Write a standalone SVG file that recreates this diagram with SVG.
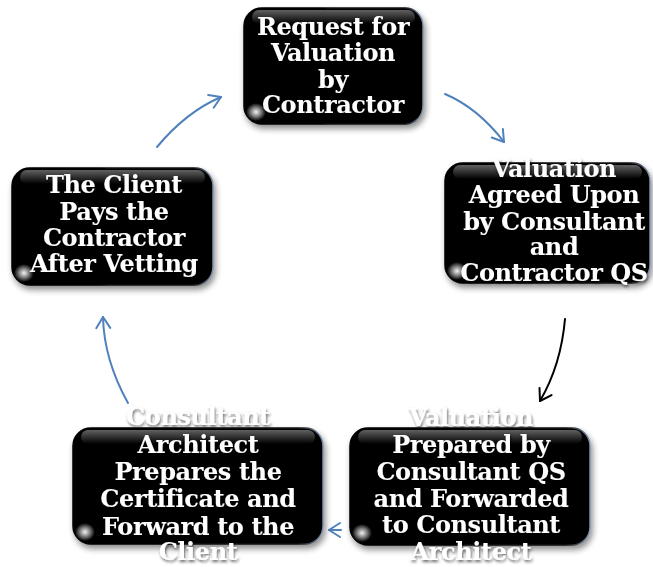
<svg xmlns="http://www.w3.org/2000/svg" width="653" height="567" viewBox="0 0 653 567">
  <style>
    .box { fill: #000; stroke: url(#rim); stroke-width: 1.5; filter: url(#boxShadow); }
    .gloss { fill: url(#topGloss); }
    .shine { fill: url(#cornerShine); }
    .label { font-family: "DejaVu Serif", "Liberation Serif", serif; font-weight: bold; font-size: 24px; letter-spacing: -0.4px; fill: #fff; text-anchor: middle; filter: url(#textShadow); }
    .flow { fill: none; stroke: #4F81BD; stroke-width: 2; stroke-linecap: round; }
    .flow-dark { fill: none; stroke: #000; stroke-width: 2; stroke-linecap: round; }
  </style>
  <defs>
    <linearGradient id="rim" x1="0" y1="0" x2="1" y2="0">
      <stop offset="0" stop-color="#000"/>
      <stop offset="0.9" stop-color="#111"/>
      <stop offset="1" stop-color="#7f93ad"/>
    </linearGradient>
    <linearGradient id="topGloss" x1="0" y1="0" x2="0" y2="1">
      <stop offset="0" stop-color="#fff" stop-opacity="0.38"/>
      <stop offset="1" stop-color="#fff" stop-opacity="0"/>
    </linearGradient>
    <radialGradient id="cornerShine" cx="0.5" cy="0.5" r="0.5">
      <stop offset="0" stop-color="#fff" stop-opacity="0.95"/>
      <stop offset="0.5" stop-color="#fff" stop-opacity="0.5"/>
      <stop offset="1" stop-color="#fff" stop-opacity="0"/>
    </radialGradient>
    <filter id="boxShadow" x="-10%" y="-10%" width="125%" height="130%">
      <feGaussianBlur in="SourceAlpha" stdDeviation="3"/>
      <feOffset dx="2" dy="4" result="b"/>
      <feComponentTransfer><feFuncA type="linear" slope="0.45"/></feComponentTransfer>
      <feMerge><feMergeNode/><feMergeNode in="SourceGraphic"/></feMerge>
    </filter>
    <filter id="textShadow" x="-10%" y="-30%" width="120%" height="160%">
      <feGaussianBlur in="SourceAlpha" stdDeviation="1.5"/>
      <feOffset dx="1" dy="2"/>
      <feComponentTransfer><feFuncA type="linear" slope="0.6"/></feComponentTransfer>
      <feMerge><feMergeNode/><feMergeNode in="SourceGraphic"/></feMerge>
    </filter>
    <marker id="headBlue" viewBox="-13 -9 15 18" markerWidth="15" markerHeight="18" refX="0" refY="0" orient="auto" markerUnits="userSpaceOnUse">
      <path d="M-11,-7 L0,0 L-11,7" fill="none" stroke="#4F81BD" stroke-width="2" stroke-linecap="round" stroke-linejoin="round"/>
    </marker>
    <marker id="headDark" viewBox="-13 -9 15 18" markerWidth="15" markerHeight="18" refX="0" refY="0" orient="auto" markerUnits="userSpaceOnUse">
      <path d="M-11,-7 L0,0 L-11,7" fill="none" stroke="#000" stroke-width="2" stroke-linecap="round" stroke-linejoin="round"/>
    </marker>
  </defs>

  <rect width="653" height="567" fill="#fff"/>

  <!-- connectors -->
  <g id="connectors">
    <path class="flow" d="M445,94 Q478,108 504,142" marker-end="url(#headBlue)"/>
    <path class="flow-dark" d="M565,319 Q561,365 540,401" marker-end="url(#headDark)"/>
    <path class="flow" d="M341,530 L329,530" marker-end="url(#headBlue)"/>
    <path class="flow" d="M128,403 Q104,360 103,317" marker-end="url(#headBlue)"/>
    <path class="flow" d="M157,147 Q186,112 221,97" marker-end="url(#headBlue)"/>
  </g>

  <!-- request -->
  <g id="node-request">
    <rect class="box" x="244" y="8" width="179" height="116" rx="18"/>
    <rect class="gloss" x="252" y="10" width="163" height="14" rx="7"/>
    <ellipse class="shine" cx="256" cy="112" rx="10" ry="9"/>
    <text class="label" x="333" y="35">Request for</text>
    <text class="label" x="333" y="61">Valuation</text>
    <text class="label" x="333" y="88">by</text>
    <text class="label" x="333" y="113">Contractor</text>
  </g>

  <!-- agreed -->
  <g id="node-agreed">
    <rect class="box" x="445" y="163" width="205" height="120" rx="18"/>
    <rect class="gloss" x="453" y="165" width="189" height="14" rx="7"/>
    <ellipse class="shine" cx="457" cy="271" rx="10" ry="9"/>
    <text class="label" x="554" y="177">Valuation</text>
    <text class="label" x="554" y="203">Agreed Upon</text>
    <text class="label" x="554" y="230">by Consultant</text>
    <text class="label" x="554" y="255">and</text>
    <text class="label" x="554" y="281">Contractor QS</text>
  </g>

  <!-- prepared -->
  <g id="node-prepared">
    <rect class="box" x="350" y="428" width="240" height="117" rx="18"/>
    <rect class="gloss" x="358" y="430" width="224" height="14" rx="7"/>
    <ellipse class="shine" cx="362" cy="533" rx="10" ry="9"/>
    <text class="label" x="471" y="426">Valuation</text>
    <text class="label" x="471" y="453">Prepared by</text>
    <text class="label" x="471" y="480">Consultant QS</text>
    <text class="label" x="471" y="507">and Forwarded</text>
    <text class="label" x="471" y="533">to Consultant</text>
    <text class="label" x="471" y="560">Architect</text>
  </g>

  <!-- certificate -->
  <g id="node-certificate">
    <rect class="box" x="73" y="428" width="250" height="116" rx="18"/>
    <rect class="gloss" x="81" y="430" width="234" height="14" rx="7"/>
    <ellipse class="shine" cx="85" cy="532" rx="10" ry="9"/>
    <text class="label" x="198" y="425">Consultant</text>
    <text class="label" x="198" y="453">Architect</text>
    <text class="label" x="198" y="480">Prepares the</text>
    <text class="label" x="198" y="507">Certificate and</text>
    <text class="label" x="198" y="535">Forward to the</text>
    <text class="label" x="198" y="560">Client</text>
  </g>

  <!-- payment -->
  <g id="node-payment">
    <rect class="box" x="12" y="168" width="201" height="117" rx="18"/>
    <rect class="gloss" x="20" y="170" width="185" height="14" rx="7"/>
    <ellipse class="shine" cx="24" cy="273" rx="10" ry="9"/>
    <text class="label" x="114" y="193">The Client</text>
    <text class="label" x="114" y="220">Pays the</text>
    <text class="label" x="114" y="246">Contractor</text>
    <text class="label" x="114" y="272">After Vetting</text>
  </g>
</svg>
